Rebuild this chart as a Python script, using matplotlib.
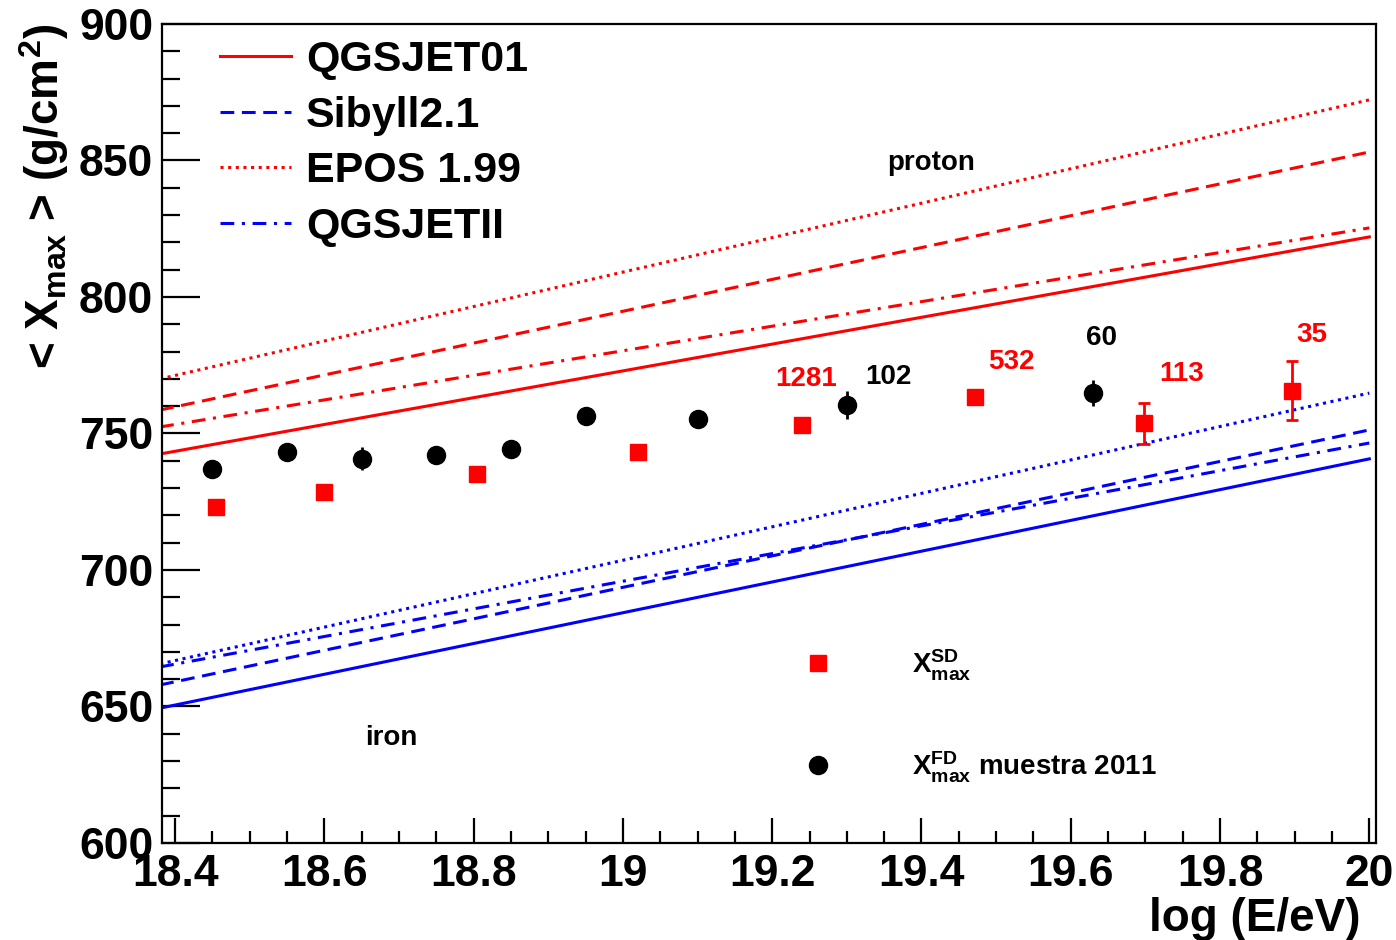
import matplotlib.pyplot as plt
from matplotlib.ticker import MultipleLocator, FuncFormatter
from matplotlib.lines import Line2D

plt.rcParams['font.family'] = ['Liberation Sans', 'DejaVu Sans']
plt.rcParams['mathtext.fontset'] = 'custom'
plt.rcParams['mathtext.rm'] = 'Liberation Sans:bold'
plt.rcParams['mathtext.bf'] = 'Liberation Sans:bold'
plt.rcParams['mathtext.it'] = 'Liberation Sans:bold'
plt.rcParams['mathtext.default'] = 'bf'

# ---- model lines (log E range and <Xmax> at both ends) ----
e_line = [18.38, 20.0]
p_qgsjet01 = [742.5, 822.0]
p_sibyll = [758.6, 853.1]
p_epos = [770.0, 872.2]
p_qgsjetii = [752.4, 825.3]
fe_qgsjet01 = [649.4, 740.7]
fe_sibyll = [657.9, 751.3]
fe_epos = [665.6, 764.8]
fe_qgsjetii = [664.5, 746.5]

# ---- SD data ----
sd_e = [18.455, 18.60, 18.805, 19.02, 19.24, 19.472, 19.698, 19.897]
sd_x = [723.1, 728.6, 735.2, 743.2, 753.1, 763.4, 753.8, 765.6]
sd_err = [1.0, 1.0, 1.0, 1.0, 1.5, 2.0, 7.5, 10.8]
sd_count_idx = [4, 5, 6, 7]
sd_counts = ['1281', '532', '113', '35']
sd_count_off = [(3, 33), (26, 25), (27, 35), (14, 40)]

# ---- FD data (muestra 2011) ----
fd_e = [18.45, 18.55, 18.65, 18.75, 18.85, 18.95, 19.10, 19.30, 19.63]
fd_x = [737.0, 743.2, 740.7, 742.1, 744.3, 756.4, 755.3, 760.4, 764.8]
fd_err = [2.0, 2.0, 4.2, 2.0, 3.3, 3.0, 2.5, 5.0, 4.7]
fd_count_idx = [7, 8]
fd_counts = ['102', '60']
fd_count_off = [(30, 20), (6, 40)]

RED = '#ff0000'
BLUE = '#0000ff'
LW = 2.2
DOT = (0, (1.0, 1.5))
DASH = (0, (4.5, 2.5))
DASHDOT = (0, (4.5, 2.5, 1.0, 2.5))

fig = plt.figure(figsize=(13.96, 9.40), dpi=100)
ax = fig.add_axes([0.1158, 0.1032, 0.8699, 0.8713])

# proton
ax.plot(e_line, p_epos, color=RED, lw=LW, ls=DOT)
ax.plot(e_line, p_sibyll, color=RED, lw=LW, ls=DASH)
ax.plot(e_line, p_qgsjetii, color=RED, lw=LW, ls=DASHDOT)
ax.plot(e_line, p_qgsjet01, color=RED, lw=LW, ls='-')
# iron
ax.plot(e_line, fe_epos, color=BLUE, lw=LW, ls=DOT)
ax.plot(e_line, fe_sibyll, color=BLUE, lw=LW, ls=DASH)
ax.plot(e_line, fe_qgsjetii, color=BLUE, lw=LW, ls=DASHDOT)
ax.plot(e_line, fe_qgsjet01, color=BLUE, lw=LW, ls='-')

# data
ax.errorbar(fd_e, fd_x, yerr=fd_err, fmt='o', color='black', ms=13,
            elinewidth=2, capsize=0, zorder=5)
ax.errorbar(sd_e, sd_x, yerr=sd_err, fmt='s', color=RED, ms=11.5,
            elinewidth=2, capsize=4, capthick=2, zorder=5)

for i, txt, off in zip(sd_count_idx, sd_counts, sd_count_off):
    ax.annotate(txt, (sd_e[i], sd_x[i]), xytext=off, textcoords='offset points',
                ha='center', va='center', color=RED, fontsize=20, fontweight='bold')
for i, txt, off in zip(fd_count_idx, fd_counts, fd_count_off):
    ax.annotate(txt, (fd_e[i], fd_x[i]), xytext=off, textcoords='offset points',
                ha='center', va='center', color='black', fontsize=20, fontweight='bold')

ax.text(19.413, 849.2, 'proton', ha='center', va='center', fontsize=20, fontweight='bold')
ax.text(18.69, 638.5, 'iron', ha='center', va='center', fontsize=20, fontweight='bold')

# model legend
h1 = [Line2D([], [], color=RED, lw=LW, ls='-'),
      Line2D([], [], color=BLUE, lw=LW, ls=DASH),
      Line2D([], [], color=RED, lw=LW, ls=DOT),
      Line2D([], [], color=BLUE, lw=LW, ls=DASHDOT)]
leg1 = ax.legend(h1, ['QGSJET01', 'Sibyll2.1', 'EPOS 1.99', 'QGSJETII'],
                 loc='upper left', bbox_to_anchor=(0.048, 0.98), frameon=False,
                 borderpad=0, borderaxespad=0, handlelength=1.65,
                 handletextpad=0.35, labelspacing=0.36,
                 prop={'size': 31, 'weight': 'bold'})
ax.add_artist(leg1)

# data legend
h2 = [Line2D([], [], marker='s', color=RED, ls='none', ms=11.5),
      Line2D([], [], marker='o', color='black', ls='none', ms=13)]
ax.legend(h2, [r'$X^{SD}_{max}$', r'$X^{FD}_{max}$ muestra 2011'],
          loc='upper left', bbox_to_anchor=(0.529, 0.239), frameon=False,
          borderpad=0, borderaxespad=0, handlelength=1.0, handletextpad=2.9,
          labelspacing=2.4, prop={'size': 20, 'weight': 'bold'})

ax.set_xlim(18.382, 20.009)
ax.set_ylim(600, 900)
ax.xaxis.set_major_locator(MultipleLocator(0.2))
ax.xaxis.set_minor_locator(MultipleLocator(0.05))
ax.yaxis.set_major_locator(MultipleLocator(50))
ax.yaxis.set_minor_locator(MultipleLocator(10))
ax.xaxis.set_major_formatter(FuncFormatter(lambda v, p: '%g' % round(v, 2)))

ax.tick_params(axis='both', which='both', direction='in', top=False, right=False,
               width=1.6, colors='black')
ax.tick_params(axis='x', which='major', length=18, pad=8)
ax.tick_params(axis='x', which='minor', length=9)
ax.tick_params(axis='y', which='major', length=27, pad=6)
ax.tick_params(axis='y', which='minor', length=13)
for lab in ax.get_xticklabels() + ax.get_yticklabels():
    lab.set_fontsize(32)
    lab.set_fontweight('bold')
for sp in ax.spines.values():
    sp.set_linewidth(1.6)

ax.set_xlabel('log (E/eV)', fontsize=33, fontweight='bold', loc='right')
ax.xaxis.set_label_coords(0.987, -0.066)
ax.set_ylabel(r'< $X_{max}$ > (g/cm$^{2}$)', fontsize=33, fontweight='bold', loc='top')
ax.yaxis.set_label_coords(-0.075, 1.0)

plt.savefig('out.png', dpi=100)
plt.close()
